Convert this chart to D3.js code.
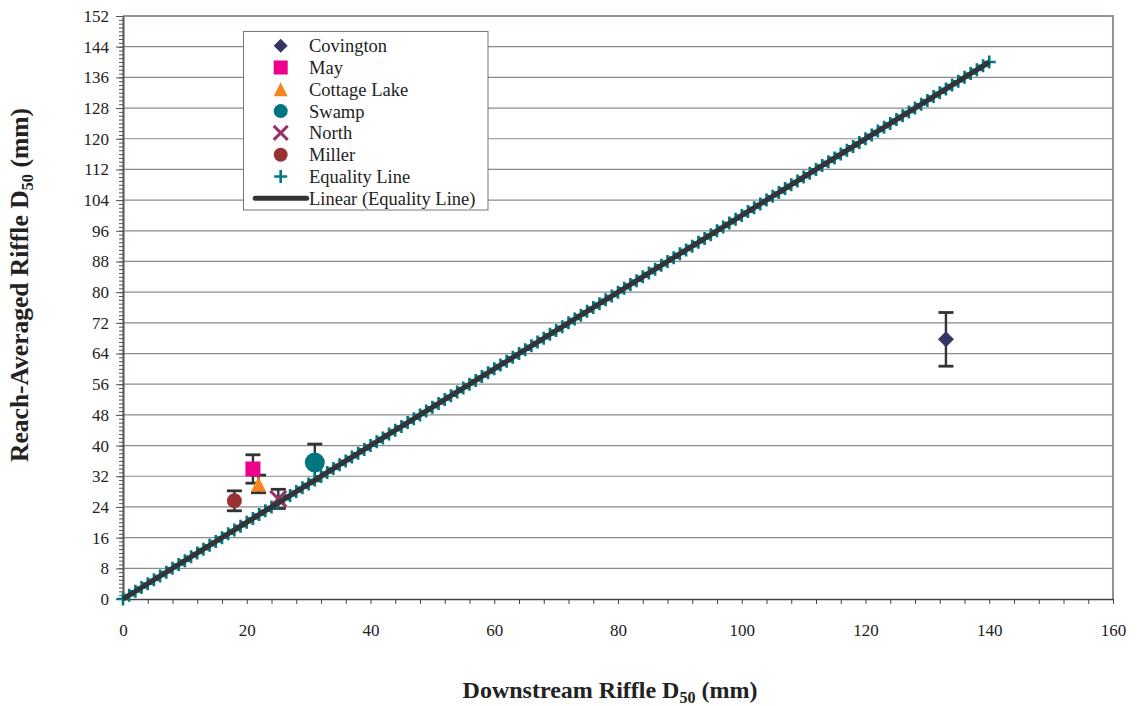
<!DOCTYPE html>
<html><head><meta charset="utf-8">
<script src="https://cdn.jsdelivr.net/npm/d3@7"></script>
<style>
body{margin:0;background:#fff;}
svg{display:block;font-family:"Liberation Serif","Times New Roman",serif;}
svg text{font-family:"Liberation Serif","Times New Roman",serif;}
</style>
</head><body>
<svg id="chart" width="1140" height="706"></svg>
<script>
// ---- data ----
const xTickValues = [0, 20, 40, 60, 80, 100, 120, 140, 160];
const yTickValues = [0, 8, 16, 24, 32, 40, 48, 56, 64, 72, 80, 88, 96, 104, 112, 120, 128, 136, 144, 152];
const siteNames = ["Covington", "May", "Cottage Lake", "Swamp", "North", "Miller"];
const siteDownstream = [133, 21, 21.9, 31, 25.1, 18];
const siteReachAvg = [67.7, 33.9, 30.0, 35.6, 26.1, 25.6];
const siteError = [7.0, 3.7, 2.3, 4.8, 2.5, 2.6];
const siteColors = ["#343466", "#ec008c", "#f7861f", "#007580", "#993366", "#993235"];
const siteShapes = ["diamond", "square", "triangle", "bigcircle", "cross", "circle"];
const equalityX = [0,1,2,3,4,5,6,7,8,9,10,11,12,13,14,15,16,17,18,19,20,21,22,23,24,25,26,27,28,29,30,31,32,33,34,35,36,37,38,39,40,41,42,43,44,45,46,47,48,49,50,51,52,53,54,55,56,57,58,59,60,61,62,63,64,65,66,67,68,69,70,71,72,73,74,75,76,77,78,79,80,81,82,83,84,85,86,87,88,89,90,91,92,93,94,95,96,97,98,99,100,101,102,103,104,105,106,107,108,109,110,111,112,113,114,115,116,117,118,119,120,121,122,123,124,125,126,127,128,129,130,131,132,133,134,135,136,137,138,139,140];
const equalityY = [0,1,2,3,4,5,6,7,8,9,10,11,12,13,14,15,16,17,18,19,20,21,22,23,24,25,26,27,28,29,30,31,32,33,34,35,36,37,38,39,40,41,42,43,44,45,46,47,48,49,50,51,52,53,54,55,56,57,58,59,60,61,62,63,64,65,66,67,68,69,70,71,72,73,74,75,76,77,78,79,80,81,82,83,84,85,86,87,88,89,90,91,92,93,94,95,96,97,98,99,100,101,102,103,104,105,106,107,108,109,110,111,112,113,114,115,116,117,118,119,120,121,122,123,124,125,126,127,128,129,130,131,132,133,134,135,136,137,138,139,140];
const trendX = [0, 140];
const trendY = [0, 140];
const legendLabels = ["Covington", "May", "Cottage Lake", "Swamp", "North", "Miller", "Equality Line", "Linear (Equality Line)"];
const equalityColor = "#007880";
const trendColor = "#333338";
const serif = "Liberation Serif";

// ---- layout ----
const W = 1140, H = 706;
const margin = {left: 123, top: 16, right: 27, bottom: 107};
const pw = W - margin.left - margin.right;
const ph = H - margin.top - margin.bottom;

const svg = d3.select("#chart");
const x = d3.scaleLinear().domain([0, 160]).range([margin.left, margin.left + pw]);
const y = d3.scaleLinear().domain([0, 152]).range([margin.top + ph, margin.top]);

// gridlines
svg.append("g").selectAll("line").data(yTickValues.filter(v => v > 0 && v < 152)).join("line")
  .attr("x1", x(0)).attr("x2", x(160)).attr("y1", d => y(d)).attr("y2", d => y(d))
  .attr("stroke", "#8a8a8a").attr("stroke-width", 1.2);

// frame top/right
svg.append("path")
  .attr("d", `M${x(0)},${y(152)}H${x(160)}V${y(0)}`)
  .attr("fill", "none").attr("stroke", "#9d908e").attr("stroke-width", 2);

// minor ticks
const yMinor = d3.range(0, 153, 1);
const xMinor = d3.range(0, 161, 4);
svg.append("g").attr("transform", `translate(${x(0)},0)`)
  .call(d3.axisLeft(y).tickValues(yMinor).tickSize(4).tickFormat(""))
  .call(g => { g.select(".domain").remove(); g.selectAll("line").attr("stroke", "#5a5050"); });
svg.append("g").attr("transform", `translate(0,${y(0)})`)
  .call(d3.axisBottom(x).tickValues(xMinor).tickSize(5).tickFormat(""))
  .call(g => { g.select(".domain").remove(); g.selectAll("line").attr("stroke", "#444"); });

// major axes
const yAxis = svg.append("g").attr("transform", `translate(${x(0)},0)`)
  .call(d3.axisLeft(y).tickValues(yTickValues).tickSize(7).tickPadding(7).tickSizeOuter(0))
  .attr("font-family", serif).attr("font-size", 17);
yAxis.select(".domain").attr("stroke", "#5a5050").attr("stroke-width", 2);
yAxis.selectAll("line").attr("stroke", "#5a5050");
yAxis.selectAll("text").attr("fill", "#222");

const xAxis = svg.append("g").attr("transform", `translate(0,${y(0)})`)
  .call(d3.axisBottom(x).tickValues(xTickValues).tickSize(0).tickPadding(25).tickSizeOuter(0))
  .attr("font-family", serif).attr("font-size", 17);
xAxis.select(".domain").attr("stroke", "#444").attr("stroke-width", 1.5);
xAxis.selectAll("text").attr("fill", "#222");

// marker shapes
function shapePath(shape, s) {
  switch (shape) {
    case "diamond": return `M0,${-s}L${s},0L0,${s}L${-s},0Z`;
    case "square": return `M${-s},${-s}H${s}V${s}H${-s}Z`;
    case "triangle": return `M0,${-s}L${s},${s}H${-s}Z`;
    case "circle":
    case "bigcircle": return `M${s},0A${s},${s} 0 1,1 ${-s},0A${s},${s} 0 1,1 ${s},0Z`;
    case "cross": return `M${-s},${-s}L${s},${s}M${s},${-s}L${-s},${s}`;
    case "plus": return `M${-s},0H${s}M0,${-s}V${s}`;
  }
}
function drawMarker(g, shape, color, s, sw) {
  const stroked = shape === "cross" || shape === "plus";
  g.append("path").attr("d", shapePath(shape, s))
    .attr("fill", stroked ? "none" : color)
    .attr("stroke", stroked ? color : "none")
    .attr("stroke-width", stroked ? (sw || 2.6) : 0);
}
const plotSize = {diamond: 8, square: 7.5, triangle: 7.5, bigcircle: 10, cross: 8, circle: 7.5};

const sites = siteNames.map((n, i) => ({name: n, x: siteDownstream[i], y: siteReachAvg[i], e: siteError[i], color: siteColors[i], shape: siteShapes[i]}));

// error bars
const eb = svg.append("g").attr("stroke", "#333").attr("stroke-width", 2.4).attr("fill", "none");
sites.forEach(d => {
  const cx = x(d.x);
  eb.append("line").attr("x1", cx).attr("x2", cx).attr("y1", y(d.y - d.e)).attr("y2", y(d.y + d.e));
  [d.y - d.e, d.y + d.e].forEach(v => {
    eb.append("line").attr("x1", cx - 7.5).attr("x2", cx + 7.5).attr("y1", y(v)).attr("y2", y(v)).attr("stroke-width", 2.8);
  });
});

// equality line markers
const eq = svg.append("g");
equalityX.forEach((v, i) => {
  const g = eq.append("g").attr("transform", `translate(${x(v)},${y(equalityY[i])})`);
  drawMarker(g, "plus", equalityColor, 6.5, 2.6);
});

// site markers
sites.forEach(d => {
  const g = svg.append("g").attr("transform", `translate(${x(d.x)},${y(d.y)})`);
  drawMarker(g, d.shape, d.color, plotSize[d.shape], 3);
});

// linear trendline
svg.append("path")
  .datum(trendX.map((v, i) => [v, trendY[i]]))
  .attr("d", d3.line().x(d => x(d[0])).y(d => y(d[1])))
  .attr("stroke", trendColor).attr("stroke-width", 5).attr("fill", "none");

// legend
const lg = svg.append("g");
lg.append("rect").attr("x", 243.5).attr("y", 31.5).attr("width", 244.5).attr("height", 178.5)
  .attr("fill", "#fff").attr("stroke", "#777").attr("stroke-width", 1);
legendLabels.forEach((lab, i) => {
  const cy = 45.7 + i * 21.8;
  const g = lg.append("g").attr("transform", `translate(280.7,${cy})`);
  if (i < 6) drawMarker(g, siteShapes[i], siteColors[i], 7, 3);
  else if (i === 6) drawMarker(g, "plus", equalityColor, 6.5, 2.6);
  else g.append("line").attr("x1", -25.5).attr("x2", 26).attr("stroke", trendColor).attr("stroke-width", 5).attr("stroke-linecap", "round");
  lg.append("text").attr("x", 309).attr("y", cy).attr("dy", "0.35em")
    .attr("font-size", 18.5).attr("fill", "#222").text(lab);
});

// axis titles
const xt = svg.append("text").attr("x", 610).attr("y", 698).attr("text-anchor", "middle")
  .attr("font-size", 24).attr("font-weight", "bold").attr("fill", "#222");
xt.append("tspan").text("Downstream Riffle D");
xt.append("tspan").attr("font-size", 16).attr("dy", 5).text("50");
xt.append("tspan").attr("dy", -5).text(" (mm)");

const yt = svg.append("text").attr("transform", "translate(28,285) rotate(-90)").attr("text-anchor", "middle")
  .attr("font-size", 25.5).attr("font-weight", "bold").attr("fill", "#222");
yt.append("tspan").text("Reach-Averaged Riffle D");
yt.append("tspan").attr("font-size", 16.5).attr("dy", 5).text("50");
yt.append("tspan").attr("dy", -5).text(" (mm)");
</script>
</body></html>
